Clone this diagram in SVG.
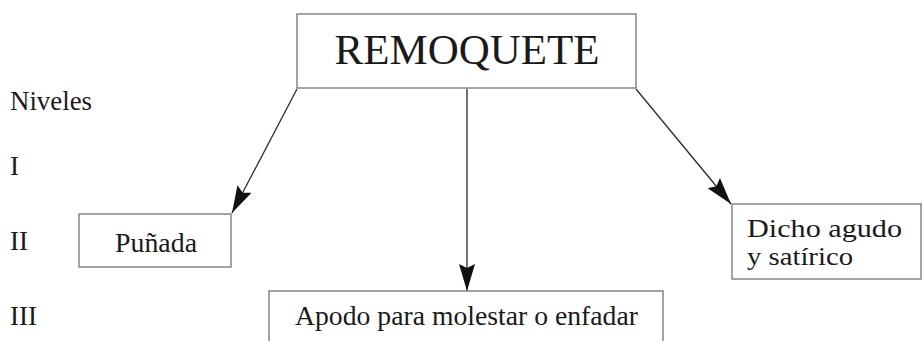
<svg xmlns="http://www.w3.org/2000/svg" width="922" height="341" viewBox="0 0 922 341">
  <style>
    .box { fill: #ffffff; stroke: #8c8c8c; stroke-width: 1.6; }
    .lbl { font-family: "Liberation Serif", "DejaVu Serif", serif; fill: #1a1a1a; }
    .side { font-size: 27px; }
    .conn { stroke: #2a2a2a; stroke-width: 1.3; fill: none; marker-end: url(#ah); }
  </style>
  <defs>
    <marker id="ah" markerUnits="userSpaceOnUse" markerWidth="28" markerHeight="18" viewBox="0 0 28 18" refX="27" refY="9" orient="auto">
      <path d="M0,1 L27,9 L0,17 L4,9 z" fill="#111111"/>
    </marker>
  </defs>
  <rect width="922" height="341" fill="#ffffff"/>

  <g id="levels">
    <text class="lbl side" x="10" y="110" textLength="82" lengthAdjust="spacingAndGlyphs">Niveles</text>
    <text class="lbl side" x="10" y="175">I</text>
    <text class="lbl side" x="10" y="250">II</text>
    <text class="lbl side" x="10" y="325">III</text>
  </g>

  <g id="connectors">
    <line class="conn" x1="297" y1="89" x2="232" y2="213"/>
    <line class="conn" x1="467" y1="89" x2="467" y2="291"/>
    <line class="conn" x1="636" y1="89" x2="731" y2="204"/>
  </g>

  <g id="node-remoquete">
    <rect class="box" x="297" y="14" width="339" height="74"/>
    <text class="lbl" x="467" y="64" font-size="43" text-anchor="middle" textLength="265" lengthAdjust="spacingAndGlyphs">REMOQUETE</text>
  </g>

  <g id="node-punada">
    <rect class="box" x="79" y="214" width="152" height="53"/>
    <text class="lbl" x="156" y="252" font-size="27" text-anchor="middle" textLength="82" lengthAdjust="spacingAndGlyphs">Puñada</text>
  </g>

  <g id="node-apodo">
    <rect class="box" x="269" y="291" width="394" height="60"/>
    <text class="lbl" x="466.5" y="325" font-size="27" text-anchor="middle" textLength="343" lengthAdjust="spacingAndGlyphs">Apodo para molestar o enfadar</text>
  </g>

  <g id="node-dicho">
    <rect class="box" x="732" y="204" width="189" height="75"/>
    <text class="lbl" x="747" y="237" font-size="25" textLength="155" lengthAdjust="spacingAndGlyphs">Dicho agudo</text>
    <text class="lbl" x="747" y="265" font-size="25" textLength="106" lengthAdjust="spacingAndGlyphs">y satírico</text>
  </g>
</svg>
